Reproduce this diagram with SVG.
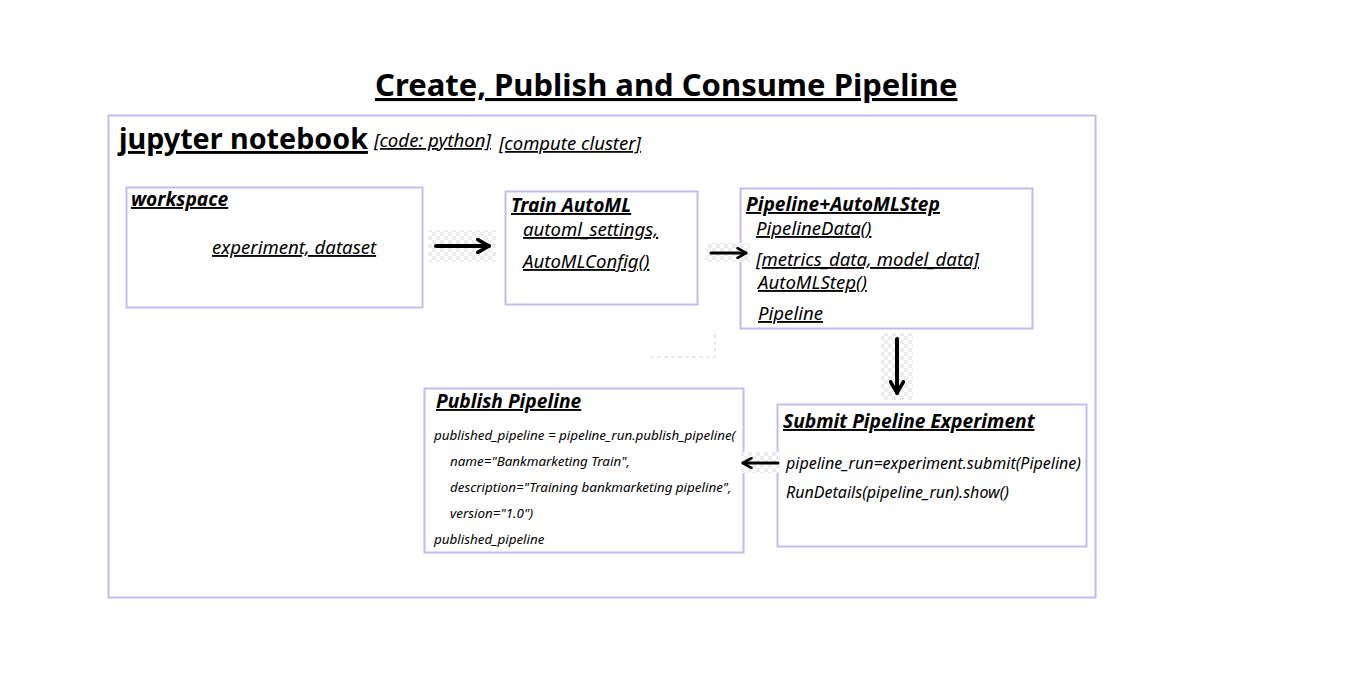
<svg xmlns="http://www.w3.org/2000/svg" width="1366" height="685" viewBox="0 0 1366 685">
<defs>
<pattern id="chk" width="8" height="8" patternUnits="userSpaceOnUse">
<rect width="8" height="8" fill="#ffffff"/>
<rect width="4" height="4" fill="#ececec"/>
<rect x="4" y="4" width="4" height="4" fill="#ececec"/>
</pattern>
<marker id="ah" viewBox="0 0 10 10" refX="8" refY="5" markerWidth="4" markerHeight="4" orient="auto" markerUnits="strokeWidth">
<path d="M1,1 L8,5 L1,9" fill="none" stroke="#000" stroke-width="2.2" stroke-linecap="round" stroke-linejoin="round"/>
</marker>
</defs>
<style>
text{font-family:"Noto Sans","Open Sans","DejaVu Sans",sans-serif;fill:#000}
.box{fill:#fff;stroke:#c3bbf2;stroke-width:2}
.u{text-decoration:underline}
.h{font-weight:bold;font-style:italic;font-size:19.2px}
.it{font-style:italic;font-size:18.6px}
.sub{font-style:italic;font-size:15.8px}
.code{font-style:italic;font-size:13.4px}
.arr{stroke:#000;fill:none;stroke-linecap:round}
</style>
<rect width="1366" height="685" fill="#fff"/>
<text x="375" y="96" class="u" font-size="31" font-weight="bold">Create, Publish and Consume Pipeline</text>
<g id="notebook">
<rect x="108.5" y="115.5" width="987" height="482" class="box"/>
<text x="119" y="149" class="u" font-size="28.7" font-weight="bold">jupyter notebook</text>
<text x="374" y="147" class="u" font-style="italic" font-size="17.5" textLength="117" lengthAdjust="spacingAndGlyphs">[code: python]</text>
<text x="499" y="150" class="u" font-style="italic" font-size="17.5" textLength="142" lengthAdjust="spacingAndGlyphs">[compute cluster]</text>
</g>
<path d="M650,357 H715 V330" fill="none" stroke="#e4e4e4" stroke-width="1.5" stroke-dasharray="4,3"/>
<g id="workspace">
<rect x="126.5" y="187.5" width="296" height="120" class="box"/>
<text x="131" y="206" class="u h">workspace</text>
<text x="212" y="254" class="u it">experiment, dataset</text>
</g>
<g id="train-automl">
<rect x="505.5" y="191.5" width="192" height="113" class="box"/>
<text x="511" y="212" class="u h">Train AutoML</text>
<text x="523" y="236" class="u it">automl_settings,</text>
<text x="523" y="268" class="u it">AutoMLConfig()</text>
</g>
<g id="pipeline-automlstep">
<rect x="740.5" y="188.5" width="292" height="140" class="box"/>
<text x="746" y="211" class="u h">Pipeline+AutoMLStep</text>
<text x="756" y="235" class="u it">PipelineData()</text>
<text x="756" y="266" class="u it" textLength="223" lengthAdjust="spacingAndGlyphs">[metrics_data, model_data]</text>
<text x="758" y="289" class="u it">AutoMLStep()</text>
<text x="758" y="320" class="u it">Pipeline</text>
</g>
<g id="submit-pipeline-experiment">
<rect x="777.5" y="404.5" width="309" height="142" class="box"/>
<text x="783" y="428" class="u h">Submit Pipeline Experiment</text>
<text x="786" y="469" class="sub" textLength="295" lengthAdjust="spacingAndGlyphs">pipeline_run=experiment.submit(Pipeline)</text>
<text x="786" y="498" class="sub" textLength="223" lengthAdjust="spacingAndGlyphs">RunDetails(pipeline_run).show()</text>
</g>
<g id="publish-pipeline">
<rect x="424.5" y="388.5" width="319" height="164" class="box"/>
<text x="436" y="408" class="u h">Publish Pipeline</text>
<text x="434" y="440" class="code">published_pipeline = pipeline_run.publish_pipeline(</text>
<text x="450" y="466" class="code">name="Bankmarketing Train",</text>
<text x="450" y="492" class="code">description="Training bankmarketing pipeline",</text>
<text x="450" y="518" class="code">version="1.0")</text>
<text x="434" y="544" class="code">published_pipeline</text>
</g>
<g id="connectors">
<rect x="428" y="230" width="68" height="32" fill="url(#chk)"/>
<rect x="706" y="243" width="44" height="19" fill="url(#chk)"/>
<rect x="881" y="333" width="32" height="67" fill="url(#chk)"/>
<rect x="741" y="452" width="39" height="21" fill="url(#chk)"/>
<line x1="436" y1="246" x2="489" y2="246" class="arr" stroke-width="4" marker-end="url(#ah)"/>
<line x1="711" y1="253" x2="746" y2="253" class="arr" stroke-width="3" marker-end="url(#ah)"/>
<line x1="897" y1="339" x2="897" y2="393" class="arr" stroke-width="4" marker-end="url(#ah)"/>
<line x1="778" y1="463" x2="743" y2="463" class="arr" stroke-width="3" marker-end="url(#ah)"/>
</g>
</svg>
